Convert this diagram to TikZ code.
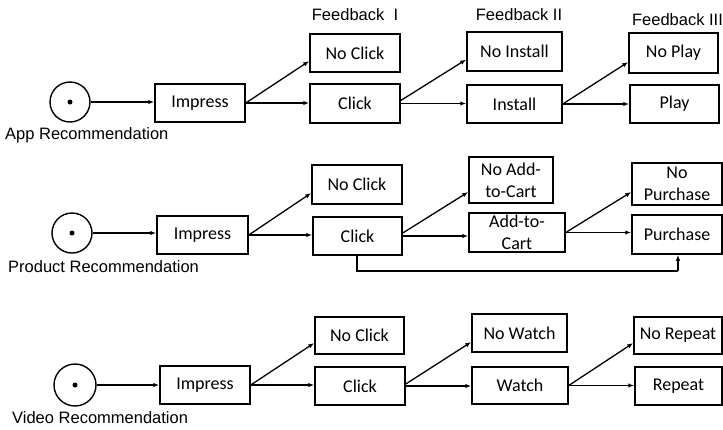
\documentclass[tikz,border=0pt]{standalone}
\usepackage{fontspec}
\setmainfont{Carlito}
\newfontfamily\labfont{Liberation Sans}
\usetikzlibrary{arrows.meta}
\tikzset{
  box/.style={draw, line width=1.5pt, inner sep=0pt, align=center,
    font=\fontsize{18}{22}\selectfont},
  src/.style={draw, circle, line width=1.4pt, minimum size=40pt, inner sep=0pt},
  dotn/.style={circle, fill, minimum size=5pt, inner sep=0pt},
  lab/.style={font=\labfont\fontsize{16.5}{19}\selectfont, inner sep=0pt},
  arr/.style={line width=1.3pt, -{Latex[length=6pt,width=4.5pt]}},
  lin/.style={line width=1.3pt}
}
\begin{document}
\begin{tikzpicture}[x=1pt,y=-1pt]
\useasboundingbox (0,0) rectangle (723,429);
% headers
\node[lab] (f1) at (355,15) {Feedback~ I};
\node[lab] (f2) at (519,15) {Feedback II};
\node[lab] (f3) at (677.5,20) {Feedback III};

% ---------- Row 1 ----------
\node[src] (c1) at (70,102) {};
\node[dotn] (d1) at (c1.center) {};
\node[lab, anchor=west] (l1) at (5,135) {App Recommendation};
\node[box, minimum width=90pt, minimum height=38pt] (imp1) at (200,103) {Impress};
\node[box, minimum width=90pt, minimum height=38pt] (nc1) at (355,53) {No Click};
\node[box, minimum width=90pt, minimum height=39pt] (cl1) at (355,103.5) {Click};
\node[box, minimum width=95pt, minimum height=39pt] (ni1) at (514.5,51.5) {No Install};
\node[box, minimum width=95pt, minimum height=38pt] (in1) at (514.5,104) {Install};
\node[box, minimum width=89pt, minimum height=40pt] (np1) at (673.5,53) {No Play};
\node[box, minimum width=89pt, minimum height=38pt] (pl1) at (674.5,104) {Play};
\draw[arr] (c1.east) -- (imp1.west |- c1.east);
\draw[arr] (imp1.east) -- ([yshift=-8pt]nc1.west);
\draw[arr] (imp1.east) -- (cl1.west |- imp1.east);
\draw[arr] ([yshift=3pt]cl1.east) -- ([yshift=-8pt]ni1.west);
\draw[arr] (cl1.east) -- (in1.west |- cl1.east);
\draw[arr] (in1.east) -- ([yshift=-9pt]np1.west);
\draw[arr] (in1.east) -- (pl1.west |- in1.east);

% ---------- Row 2 ----------
\node[src] (c2) at (72,233) {};
\node[dotn] (d2) at (c2.center) {};
\node[lab, anchor=west] (l2) at (8,267) {Product Recommendation};
\node[box, minimum width=91pt, minimum height=38pt] (imp2) at (202.5,235) {Impress};
\node[box, minimum width=90pt, minimum height=39pt] (nc2) at (357,184.5) {No Click};
\node[box, minimum width=89pt, minimum height=38pt] (cl2) at (357.5,236) {Click};
\node[box, minimum width=84pt, minimum height=46pt] (nac) at (511,180) {No Add-\\to-Cart};
\node[box, minimum width=96pt, minimum height=39pt] (ac) at (517,232.5) {Add-to-\\Cart};
\node[box, minimum width=90pt, minimum height=42pt] (np2) at (677,184) {No\\Purchase};
\node[box, minimum width=90pt, minimum height=39pt] (pu) at (677,234.5) {Purchase};
\coordinate (k1) at (357,271);
\coordinate (k2) at (678,271);
\draw[arr] (c2.east) -- (imp2.west |- c2.east);
\draw[arr] (imp2.east) -- ([yshift=-8.5pt]nc2.west);
\draw[arr] (imp2.east) -- (cl2.west |- imp2.east);
\draw[arr] ([yshift=3pt]cl2.east) -- ([yshift=-12pt]nac.west);
\draw[arr] (cl2.east) -- (ac.west |- cl2.east);
\draw[arr] (ac.east) -- ([yshift=-8pt]np2.west);
\draw[arr] (ac.east) -- (pu.west |- ac.east);
\draw[lin] (cl2.south -| k1) -- (k1) -- (k2);
\draw[arr] (k2) -- (k2 |- pu.south);

% ---------- Row 3 ----------
\node[src, minimum size=42pt] (c3) at (75,385) {};
\node[dotn] (d3) at (c3.center) {};
\node[lab, anchor=west] (l3) at (12,418) {Video Recommendation};
\node[box, minimum width=90pt, minimum height=38pt] (imp3) at (205,385) {Impress};
\node[box, minimum width=89pt, minimum height=37pt] (nc3) at (359.5,335.5) {No Click};
\node[box, minimum width=90pt, minimum height=38pt] (cl3) at (360,386) {Click};
\node[box, minimum width=95pt, minimum height=38pt] (nw) at (519.5,333) {No Watch};
\node[box, minimum width=96pt, minimum height=37pt] (wa) at (520,385.5) {Watch};
\node[box, minimum width=88pt, minimum height=37pt] (nr) at (678,335.5) {No Repeat};
\node[box, minimum width=87pt, minimum height=38pt] (re) at (678.5,386) {Repeat};
\draw[arr] (c3.east) -- (imp3.west |- c3.east);
\draw[arr] (imp3.east) -- ([yshift=-7.5pt]nc3.west);
\draw[arr] (imp3.east) -- (cl3.west |- imp3.east);
\draw[arr] ([yshift=2pt]cl3.east) -- ([yshift=-9pt]nw.west);
\draw[arr] (cl3.east) -- (wa.west |- cl3.east);
\draw[arr] (wa.east) -- ([yshift=-7.5pt]nr.west);
\draw[arr] (wa.east) -- (re.west |- wa.east);
\end{tikzpicture}
\end{document}
